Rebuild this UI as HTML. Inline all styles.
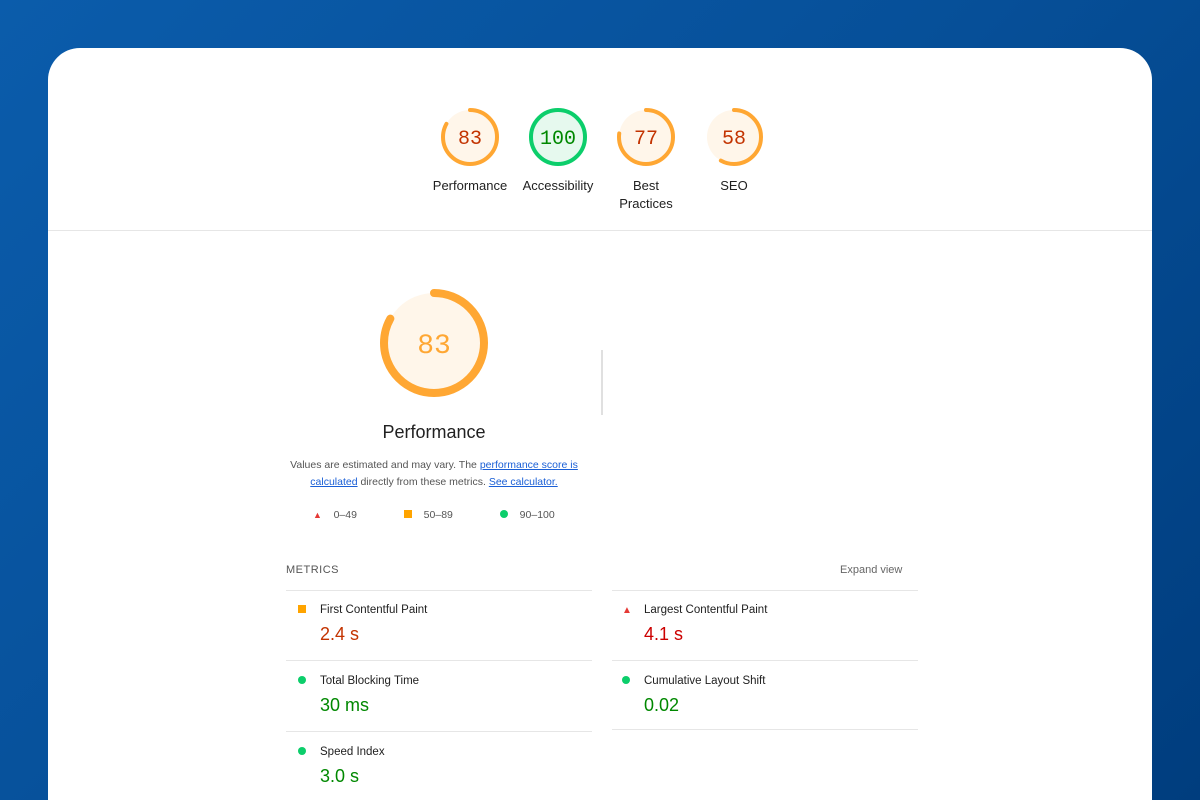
<!DOCTYPE html>
<html style="overflow:hidden;background:#064f98"><head><meta charset="utf-8"><style>
html,body{margin:0;width:1200px;height:800px;overflow:hidden}
body{background:linear-gradient(135deg,#0b5cab 0%,#064f98 50%,#003d7e 100%);font-family:"Liberation Sans","DejaVu Sans",sans-serif;position:relative}
.card{position:absolute;left:48px;top:48px;width:1104px;height:752px;background:#fff;border-radius:32px 32px 0 0}
.abs{position:absolute}
.lbl{font-size:13px;color:#212121;text-align:center;width:90px;line-height:18px}
a{color:#1a5fd6;text-decoration:underline}
.mname{font-size:11.5px;color:#212121}
.mval{font-size:18px}
.line{position:absolute;height:1px;background:#e6e6e6}
</style></head><body>
<div class="card"></div>
<svg class="abs" style="left:0;top:0" width="1200" height="800" id="g"></svg>
<div class="line" style="left:48px;top:230px;width:1104px"></div>
<div class="abs" style="left:601px;top:350px;width:2px;height:65px;background:#e0e0e0"></div>
<div class="abs lbl" style="left:425px;top:177px">Performance</div>
<div class="abs lbl" style="left:513px;top:177px">Accessibility</div>
<div class="abs lbl" style="left:601px;top:177px">Best<br>Practices</div>
<div class="abs lbl" style="left:689px;top:177px">SEO</div>
<div class="abs" style="left:284px;top:422px;width:300px;text-align:center;font-size:18px;color:#212121">Performance</div>
<div class="abs" style="left:284px;top:457px;width:300px;text-align:center;font-size:10.5px;line-height:17px;color:#555">Values are estimated and may vary. The <a>performance score is calculated</a> directly from these metrics. <a>See calculator.</a></div>
<div class="abs" style="left:313px;top:509px;font-size:10.5px;color:#555"><span style="color:#e53935;font-size:9px">▲</span>&nbsp;&nbsp;&nbsp;&nbsp;0–49</div>
<div class="abs" style="left:404px;top:509px;font-size:10.5px;color:#555"><span style="display:inline-block;width:8px;height:8px;background:#ffa400"></span>&nbsp;&nbsp;&nbsp;&nbsp;50–89</div>
<div class="abs" style="left:500px;top:509px;font-size:10.5px;color:#555"><span style="display:inline-block;width:8px;height:8px;border-radius:50%;background:#0cce6b"></span>&nbsp;&nbsp;&nbsp;&nbsp;90–100</div>
<div class="abs" style="left:286px;top:564px;font-size:11px;letter-spacing:0.5px;color:#555">METRICS</div>
<div class="abs" style="left:840px;top:564px;font-size:11px;color:#666">Expand view</div>
<div class="line" style="left:286px;top:590px;width:306px"></div><div class="line" style="left:612px;top:590px;width:306px"></div>
<div class="line" style="left:286px;top:660px;width:306px"></div><div class="line" style="left:612px;top:660px;width:306px"></div>
<div class="line" style="left:286px;top:731px;width:306px"></div><div class="line" style="left:612px;top:729px;width:306px"></div>
<div id="metrics"></div>
<script>
const cats=["Performance","Accessibility","Best Practices","SEO"];
const scores=[83,100,77,58];
const mainScore=83;
const metricNames=["First Contentful Paint","Largest Contentful Paint","Total Blocking Time","Cumulative Layout Shift","Speed Index"];
const metricValues=["2.4 s","4.1 s","30 ms","0.02","3.0 s"];
const metricRating=["average","fail","pass","pass","pass"];
const NS="http://www.w3.org/2000/svg";
const svg=document.getElementById('g');
function col(s){return s>=90?{st:'#0cce6b',bg:'#e6f9ee',tx:'#008800'}:s>=50?{st:'#ffa733',bg:'#fff6ea',tx:'#c33300'}:{st:'#ff4e42',bg:'#fdeceb',tx:'#c00'}}
function gauge(cx,cy,r,w,s,fs,txtcol,name){
  const c=col(s);const g=document.createElementNS(NS,'g');
  
  
  const bg=document.createElementNS(NS,'circle');bg.setAttribute('cx',cx);bg.setAttribute('cy',cy);bg.setAttribute('r',r);bg.setAttribute('fill',c.bg);g.appendChild(bg);
  const arc=document.createElementNS(NS,'circle');const L=2*Math.PI*r;
  arc.setAttribute('cx',cx);arc.setAttribute('cy',cy);arc.setAttribute('r',r);arc.setAttribute('fill','none');arc.setAttribute('stroke',c.st);arc.setAttribute('stroke-width',w);
  arc.setAttribute('stroke-dasharray',(L*s/100)+' '+L);arc.setAttribute('transform','rotate(-90 '+cx+' '+cy+')');arc.setAttribute('stroke-linecap','round');g.appendChild(arc);
  const t=document.createElementNS(NS,'text');t.setAttribute('x',cx);t.setAttribute('y',cy+fs*0.36);t.setAttribute('text-anchor','middle');t.setAttribute('font-size',fs);
  t.setAttribute('font-family','Liberation Mono, monospace');t.setAttribute('fill',txtcol||c.tx);t.textContent=s;g.appendChild(t);
  svg.appendChild(g);
}
scores.forEach((s,i)=>gauge(470+i*88,137,27,4,s,20,null,'gauge-'+cats[i].toLowerCase().replace(' ','-')));
gauge(434,343,50,8,mainScore,28,'#ffa733','main-performance-gauge');
const m=document.getElementById('metrics');
const icon={average:'<span style="display:inline-block;width:8px;height:8px;background:#ffa400"></span>',fail:'<span style="color:#e53935;font-size:10px">▲</span>',pass:'<span style="display:inline-block;width:8px;height:8px;border-radius:50%;background:#0cce6b"></span>'};
const vcol={average:'#c33300',fail:'#c00',pass:'#080'};
metricNames.forEach((n,i)=>{
  const x=i%2?622:298,y=604+Math.floor(i/2)*71;
  const d=document.createElement('div');d.className='abs';d.style.left=x+'px';d.style.top=y+'px';
  
  
  d.innerHTML='<div class="mname"><span style="display:inline-block;width:22px">'+icon[metricRating[i]]+'</span>'+n+'</div><div class="mval" style="margin:8px 0 0 22px;color:'+vcol[metricRating[i]]+'">'+metricValues[i]+'</div>';
  m.appendChild(d);
});
</script>
</body></html>
